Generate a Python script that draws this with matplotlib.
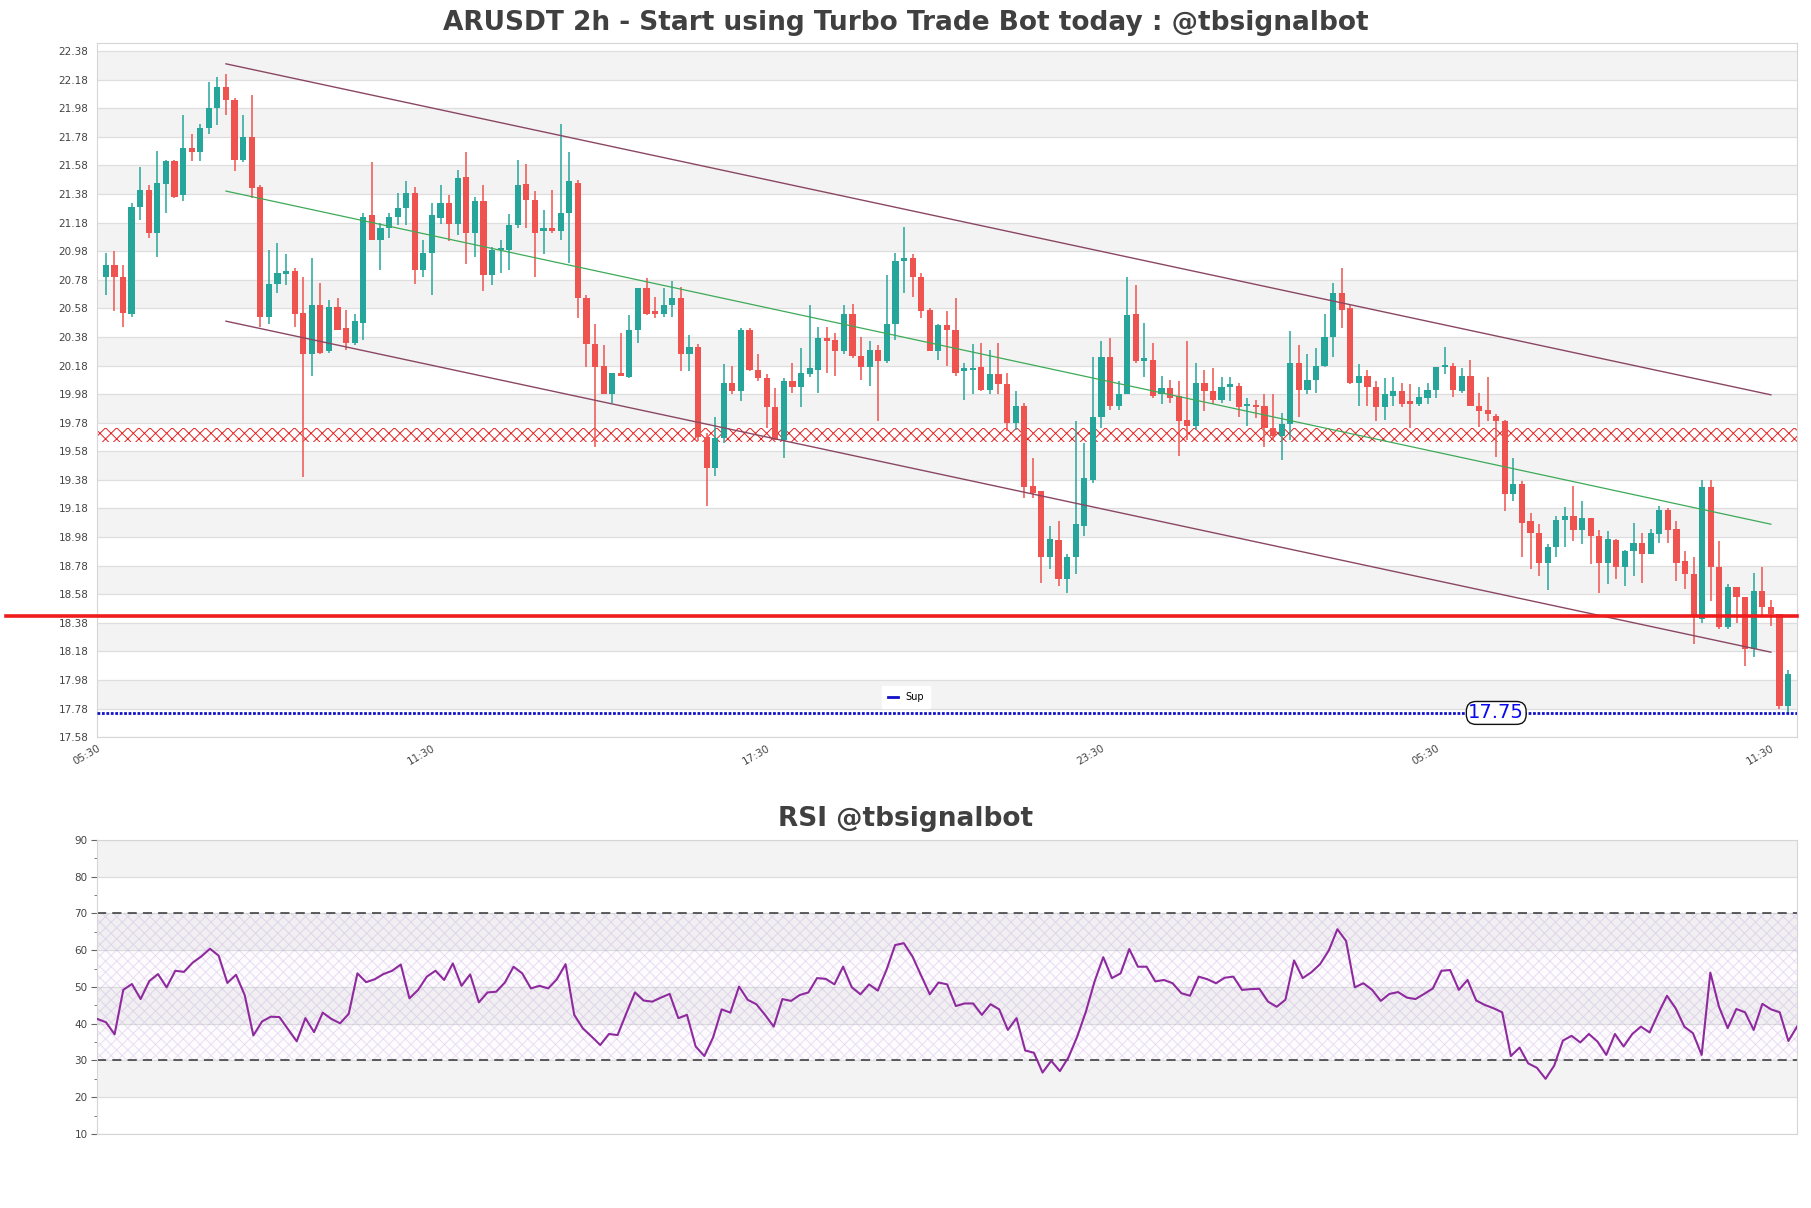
import matplotlib

matplotlib.use("Agg")
import matplotlib.pyplot as plt
import numpy as np

# ---- data ----
opens = [20.80, 20.88, 20.80, 20.54, 21.29, 21.41, 21.11, 21.45, 21.61, 21.37,
         21.70, 21.67, 21.84, 21.98, 22.13, 22.04, 21.62, 21.78, 21.43, 20.52,
         20.75, 20.82, 20.84, 20.55, 20.26, 20.60, 20.28, 20.59, 20.44, 20.34,
         20.48, 21.23, 21.06, 21.14, 21.22, 21.28, 21.39, 20.85, 20.97, 21.21,
         21.32, 21.17, 21.50, 21.11, 21.33, 20.81, 20.99, 20.99, 21.16, 21.45,
         21.34, 21.12, 21.14, 21.12, 21.25, 21.46, 20.65, 20.33, 20.18, 19.98,
         20.13, 20.10, 20.43, 20.72, 20.56, 20.54, 20.60, 20.65, 20.26, 20.31,
         19.68, 19.46, 19.67, 20.06, 20.00, 20.43, 20.15, 20.09, 19.89, 19.66,
         20.07, 20.03, 20.12, 20.15, 20.37, 20.36, 20.28, 20.54, 20.25, 20.17,
         20.29, 20.21, 20.47, 20.91, 20.93, 20.80, 20.57, 20.28, 20.46, 20.43,
         20.14, 20.15, 20.17, 20.01, 20.12, 20.05, 19.78, 19.90, 19.34, 19.30,
         18.84, 18.96, 18.69, 18.84, 19.06, 19.38, 19.82, 20.24, 19.90, 19.98,
         20.54, 20.21, 20.22, 19.98, 20.02, 19.97, 19.80, 19.76, 20.06, 20.00,
         19.94, 20.03, 20.04, 19.90, 19.90, 19.90, 19.74, 19.69, 19.77, 20.20,
         20.01, 20.08, 20.18, 20.38, 20.69, 20.58, 20.06, 20.11, 20.03, 19.89,
         19.97, 20.00, 19.93, 19.91, 19.95, 20.01, 20.17, 20.18, 20.00, 20.11,
         19.90, 19.87, 19.83, 19.79, 19.28, 19.35, 19.09, 19.01, 18.80, 18.91,
         19.10, 19.13, 19.03, 19.11, 18.99, 18.80, 18.96, 18.77, 18.88, 18.94,
         18.86, 19.00, 19.17, 19.04, 18.81, 18.72, 18.41, 19.33, 18.77, 18.35,
         18.63, 18.56, 18.20, 18.60, 18.49, 18.44, 17.80]
highs = [20.97, 20.98, 20.88, 21.32, 21.57, 21.44, 21.68, 21.62, 21.62, 21.93,
         21.80, 21.87, 22.16, 22.20, 22.22, 22.05, 21.93, 22.07, 21.44, 20.99,
         21.04, 20.96, 20.86, 20.80, 20.93, 20.76, 20.64, 20.65, 20.57, 20.54,
         21.25, 21.60, 21.18, 21.25, 21.39, 21.47, 21.43, 21.06, 21.32, 21.44,
         21.37, 21.55, 21.67, 21.36, 21.44, 21.01, 21.06, 21.24, 21.62, 21.59,
         21.40, 21.27, 21.41, 21.87, 21.67, 21.48, 20.67, 20.47, 20.32, 20.13,
         20.41, 20.53, 20.72, 20.79, 20.66, 20.72, 20.77, 20.73, 20.39, 20.33,
         19.71, 19.82, 20.19, 20.18, 20.44, 20.44, 20.26, 20.12, 20.02, 20.09,
         20.20, 20.30, 20.60, 20.45, 20.45, 20.41, 20.60, 20.61, 20.38, 20.35,
         20.32, 20.81, 20.97, 21.15, 20.96, 20.83, 20.58, 20.47, 20.56, 20.65,
         20.20, 20.33, 20.34, 20.29, 20.34, 20.13, 20.00, 19.92, 19.53, 19.30,
         19.06, 19.09, 18.86, 19.79, 19.64, 20.24, 20.35, 20.37, 20.07, 20.80,
         20.74, 20.48, 20.34, 20.11, 20.08, 20.07, 20.35, 20.20, 20.15, 20.16,
         20.10, 20.10, 20.06, 19.95, 19.94, 19.98, 19.98, 19.85, 20.42, 20.32,
         20.26, 20.30, 20.54, 20.76, 20.86, 20.60, 20.19, 20.15, 20.07, 20.09,
         20.10, 20.06, 20.05, 20.03, 20.06, 20.17, 20.31, 20.20, 20.16, 20.22,
         19.99, 20.10, 19.84, 19.80, 19.53, 19.37, 19.15, 19.07, 18.93, 19.13,
         19.19, 19.34, 19.23, 19.11, 19.03, 19.02, 18.97, 18.89, 19.08, 19.01,
         19.04, 19.20, 19.18, 19.09, 18.88, 18.84, 19.38, 19.38, 18.95, 18.65,
         18.63, 18.56, 18.73, 18.77, 18.54, 18.44, 18.05]
lows = [20.67, 20.56, 20.45, 20.52, 21.20, 21.07, 20.94, 21.25, 21.35, 21.33,
        21.61, 21.61, 21.80, 21.86, 21.93, 21.54, 21.60, 21.35, 20.45, 20.47,
        20.69, 20.74, 20.45, 19.40, 20.11, 20.26, 20.27, 20.43, 20.29, 20.32,
        20.36, 21.06, 20.85, 21.07, 21.16, 21.16, 20.75, 20.80, 20.67, 21.17,
        21.05, 21.09, 20.89, 20.94, 20.70, 20.74, 20.83, 20.85, 21.14, 21.14,
        20.80, 20.96, 21.11, 21.06, 20.90, 20.51, 20.17, 19.61, 19.98, 19.92,
        20.11, 20.09, 20.34, 20.53, 20.51, 20.52, 20.52, 20.14, 20.14, 19.65,
        19.20, 19.41, 19.64, 19.98, 19.93, 20.14, 20.07, 19.74, 19.66, 19.53,
        19.99, 19.89, 20.10, 19.99, 20.13, 20.11, 20.26, 20.23, 20.08, 20.04,
        19.79, 20.20, 20.36, 20.69, 20.66, 20.51, 20.28, 20.22, 20.18, 20.11,
        19.94, 19.98, 20.00, 19.98, 19.98, 19.72, 19.73, 19.25, 19.25, 18.66,
        18.76, 18.64, 18.59, 18.72, 18.99, 19.36, 19.74, 19.87, 19.87, 19.98,
        20.20, 20.10, 19.95, 19.91, 19.92, 19.55, 19.66, 19.73, 19.86, 19.91,
        19.92, 19.93, 19.82, 19.76, 19.81, 19.61, 19.66, 19.52, 19.66, 19.82,
        19.98, 19.99, 20.17, 20.24, 20.44, 20.05, 19.90, 19.90, 19.79, 19.80,
        19.90, 19.89, 19.74, 19.90, 19.91, 19.95, 20.12, 19.96, 19.99, 19.90,
        19.75, 19.79, 19.54, 19.16, 19.23, 18.84, 18.76, 18.71, 18.61, 18.84,
        18.91, 18.95, 18.93, 18.79, 18.59, 18.65, 18.69, 18.64, 18.71, 18.66,
        18.86, 18.94, 18.94, 18.67, 18.62, 18.23, 18.38, 18.53, 18.34, 18.34,
        18.38, 18.08, 18.14, 18.43, 18.36, 17.78, 17.75]
closes = [20.88, 20.80, 20.55, 21.29, 21.41, 21.11, 21.46, 21.61, 21.36, 21.70,
          21.67, 21.84, 21.98, 22.13, 22.04, 21.62, 21.78, 21.42, 20.52, 20.75,
          20.83, 20.84, 20.54, 20.26, 20.60, 20.27, 20.59, 20.43, 20.34, 20.49,
          21.22, 21.06, 21.14, 21.22, 21.28, 21.39, 20.85, 20.97, 21.23, 21.32,
          21.17, 21.49, 21.11, 21.33, 20.81, 20.99, 21.00, 21.16, 21.44, 21.34,
          21.11, 21.14, 21.12, 21.25, 21.47, 20.65, 20.33, 20.17, 19.98, 20.13,
          20.11, 20.43, 20.72, 20.54, 20.54, 20.60, 20.65, 20.26, 20.31, 19.68,
          19.46, 19.67, 20.06, 20.00, 20.43, 20.15, 20.09, 19.89, 19.66, 20.07,
          20.03, 20.13, 20.16, 20.37, 20.35, 20.28, 20.54, 20.25, 20.17, 20.29,
          20.21, 20.47, 20.91, 20.93, 20.80, 20.56, 20.28, 20.46, 20.43, 20.13,
          20.16, 20.16, 20.01, 20.12, 20.05, 19.78, 19.90, 19.33, 19.29, 18.84,
          18.97, 18.69, 18.84, 19.07, 19.39, 19.82, 20.24, 19.90, 19.98, 20.53,
          20.21, 20.23, 19.97, 20.02, 19.95, 19.79, 19.76, 20.06, 20.00, 19.94,
          20.03, 20.05, 19.89, 19.91, 19.89, 19.74, 19.69, 19.77, 20.20, 20.01,
          20.08, 20.18, 20.38, 20.69, 20.57, 20.06, 20.11, 20.03, 19.89, 19.98,
          20.00, 19.91, 19.91, 19.96, 20.01, 20.17, 20.18, 20.01, 20.11, 19.90,
          19.86, 19.84, 19.79, 19.28, 19.35, 19.08, 19.01, 18.80, 18.91, 19.10,
          19.13, 19.03, 19.11, 18.99, 18.80, 18.97, 18.77, 18.88, 18.94, 18.86,
          19.01, 19.17, 19.03, 18.80, 18.72, 18.42, 19.33, 18.77, 18.35, 18.63,
          18.56, 18.20, 18.60, 18.49, 18.44, 17.80, 18.02]

rsi = [41.3, 40.4, 37.1, 49.2, 50.8, 46.7, 51.6, 53.5, 49.9, 54.4,
       54.1, 56.6, 58.3, 60.4, 58.5, 51.1, 53.3, 47.8, 36.8, 40.6,
       41.9, 41.8, 38.5, 35.2, 41.5, 37.7, 43.0, 41.3, 40.1, 42.7,
       53.7, 51.3, 52.1, 53.5, 54.4, 56.1, 46.9, 49.2, 52.8, 54.4,
       51.9, 56.4, 50.3, 53.4, 45.8, 48.5, 48.7, 51.2, 55.5, 53.7,
       49.6, 50.3, 49.6, 52.1, 56.2, 42.4, 38.7, 36.5, 34.2, 37.2,
       36.9, 42.8, 48.5, 46.3, 46.0, 47.1, 48.1, 41.5, 42.4, 33.8,
       31.2, 36.2, 43.9, 43.0, 50.1, 46.5, 45.3, 42.4, 39.2, 46.7,
       46.2, 47.8, 48.5, 52.4, 52.2, 50.7, 55.5, 49.9, 48.0, 50.7,
       49.0, 54.6, 61.4, 61.9, 58.3, 53.1, 48.0, 51.2, 50.7, 44.8,
       45.5, 45.5, 42.4, 45.3, 43.9, 38.3, 41.5, 32.7, 32.1, 26.7,
       29.9, 27.1, 30.9, 36.5, 43.3, 51.5, 58.1, 52.4, 53.7, 60.3,
       55.5, 55.5, 51.5, 51.9, 51.0, 48.3, 47.6, 52.8, 52.1, 51.0,
       52.5, 52.8, 49.2, 49.4, 49.5, 46.0, 44.6, 46.5, 57.2, 52.4,
       54.0, 56.2, 59.9, 65.7, 62.5, 49.9, 51.0, 49.2, 46.2, 48.1,
       48.6, 47.1, 46.7, 48.1, 49.6, 54.4, 54.6, 49.2, 51.9, 46.3,
       45.1, 44.2, 43.1, 31.2, 33.5, 29.2, 28.0, 25.0, 28.6, 35.4,
       36.7, 34.9, 37.2, 35.1, 31.5, 37.2, 33.8, 37.2, 39.2, 37.6,
       42.8, 47.6, 44.2, 39.2, 37.4, 31.5, 53.9, 44.6, 38.8, 44.0,
       43.1, 38.3, 45.4, 43.9, 43.1, 35.3, 39.2]

time_labels = ["05:30", "11:30", "17:30", "23:30", "05:30", "11:30"]
candles_per_label = 39

# channel lines: (start index, end index, start price, end price)
channel_idx = [14, 194]
upper_channel = [22.29, 19.975]
mid_channel = [21.40, 19.07]
lower_channel = [20.49, 18.175]

zone = [19.647, 19.743]        # hatched resistance zone
red_level = 18.43
sup_level = 17.75
sup_label_idx = 162

price_ticks = [round(17.58 + 0.2 * k, 2) for k in range(25)]
rsi_ticks = list(range(10, 91, 10))

GREEN = "#26a69a"
RED = "#ef5350"
BAND = "#f3f3f3"
GRID = "#dedede"
SPINE = "#d6d6d6"
TXT = "#444444"


def main() -> None:
    plt.rcParams["hatch.linewidth"] = 0.7
    fig = plt.figure(figsize=(18.11, 12.08), dpi=100)
    ax = fig.add_axes([0.0537, 0.3897, 0.9386, 0.5745])
    ax2 = fig.add_axes([0.0537, 0.0613, 0.9386, 0.2434])

    # ============== price panel =================
    ax.set_xlim(-1, 197.05)
    ax.set_ylim(17.58, 22.434)
    for k, t in enumerate(price_ticks[::-1][:-1]):
        if k % 2 == 0:
            ax.axhspan(t - 0.2, t, color=BAND, lw=0, zorder=0)
    for t in price_ticks:
        ax.axhline(t, color=GRID, lw=0.9, zorder=0.5)

    ax.axhspan(zone[0], zone[1], facecolor="none", edgecolor="#e52222",
               hatch="xxx", lw=0, zorder=1)

    x = np.arange(len(opens))
    o = np.array(opens)
    c = np.array(closes)
    up = c >= o
    cols = np.where(up, GREEN, RED)
    ax.vlines(x, lows, highs, colors=cols, lw=1.1, zorder=2)
    body_lo = np.minimum(o, c)
    body_h = np.maximum(np.abs(c - o), 0.012)
    ax.bar(x, body_h, bottom=body_lo, width=0.72, color=cols, lw=0, zorder=2.5)

    ax.plot(channel_idx, upper_channel, color="#8a4763", lw=1.0, zorder=3)
    ax.plot(channel_idx, lower_channel, color="#8a4763", lw=1.0, zorder=3)
    ax.plot(channel_idx, mid_channel, color="#3daa58", lw=0.9, zorder=3)

    ax.plot([-0.0537, 1], [red_level, red_level], transform=ax.get_yaxis_transform(),
            color="#ee1c1c", lw=2.6, clip_on=False, zorder=4)

    sup_line, = ax.plot([0, 1], [sup_level, sup_level], transform=ax.get_yaxis_transform(),
                        color="#1010c8", lw=2.0, ls=(0, (1, 0.6)), zorder=4, label="Sup")
    ax.text(sup_label_idx, sup_level, f"{sup_level:.2f}", color="#0a0af0", fontsize=14,
            ha="center", va="center", zorder=6,
            bbox=dict(boxstyle="round,pad=0.1,rounding_size=0.5", fc="white", ec="#111111", lw=1.0))

    leg = ax.legend(handles=[sup_line], loc="center", bbox_to_anchor=(0.476, 0.058),
                    fontsize=7, frameon=True, fancybox=False, edgecolor="white",
                    framealpha=1, handlelength=1.0, borderpad=0.6)
    leg.get_lines()[0].set_linestyle("-")
    leg.get_lines()[0].set_linewidth(2)

    ax.set_yticks(price_ticks)
    ax.set_yticklabels([f"{t:.2f}" for t in price_ticks])
    ax.set_xticks(np.arange(len(time_labels)) * candles_per_label - 1)
    ax.set_xticklabels(time_labels, rotation=30, ha="right", rotation_mode="anchor")
    ax.tick_params(axis="y", length=0, pad=6.5, labelsize=7.5, labelcolor=TXT)
    ax.tick_params(axis="x", length=0, pad=4, labelsize=7.5, labelcolor=TXT)
    for s in ax.spines.values():
        s.set_color(SPINE)

    # ============== RSI panel =================
    ax2.set_xlim(0, len(rsi) - 1)
    ax2.set_ylim(10, 90)
    for lo in [20, 40, 60, 80]:
        ax2.axhspan(lo, lo + 10, color=BAND, lw=0, zorder=0)
    for t in rsi_ticks:
        ax2.axhline(t, color=GRID, lw=0.9, zorder=0.5)
    ax2.axhspan(30, 70, facecolor=(0.6, 0.35, 0.75, 0.02),
                edgecolor=(0.72, 0.6, 0.86, 0.3), hatch="xxx", lw=0, zorder=1)
    ax2.axhline(70, color="#333333", lw=1.1, ls=(0, (6, 4)), zorder=2)
    ax2.axhline(30, color="#333333", lw=1.1, ls=(0, (6, 4)), zorder=2)
    ax2.plot(np.arange(len(rsi)), rsi, color="#8e2a9e", lw=1.5, zorder=3)

    ax2.set_yticks(rsi_ticks)
    ax2.set_yticks(np.arange(15, 90, 10), minor=True)
    ax2.set_xticks([])
    ax2.tick_params(axis="y", which="major", length=4, pad=3, labelsize=7.5,
                    labelcolor=TXT, color="#666666")
    ax2.tick_params(axis="y", which="minor", length=2, color="#666666")
    for s in ax2.spines.values():
        s.set_color(SPINE)

    fig.text(0.5, 0.981, "ARUSDT 2h - Start using Turbo Trade Bot today : @tbsignalbot",
             ha="center", va="center", fontsize=19, fontweight="bold", color="#404040")
    fig.text(0.5, 0.322, "RSI @tbsignalbot", ha="center", va="center",
             fontsize=19, fontweight="bold", color="#404040")

    fig.savefig("out.png", dpi=100, facecolor="white")
    plt.close(fig)


if __name__ == "__main__":
    main()
